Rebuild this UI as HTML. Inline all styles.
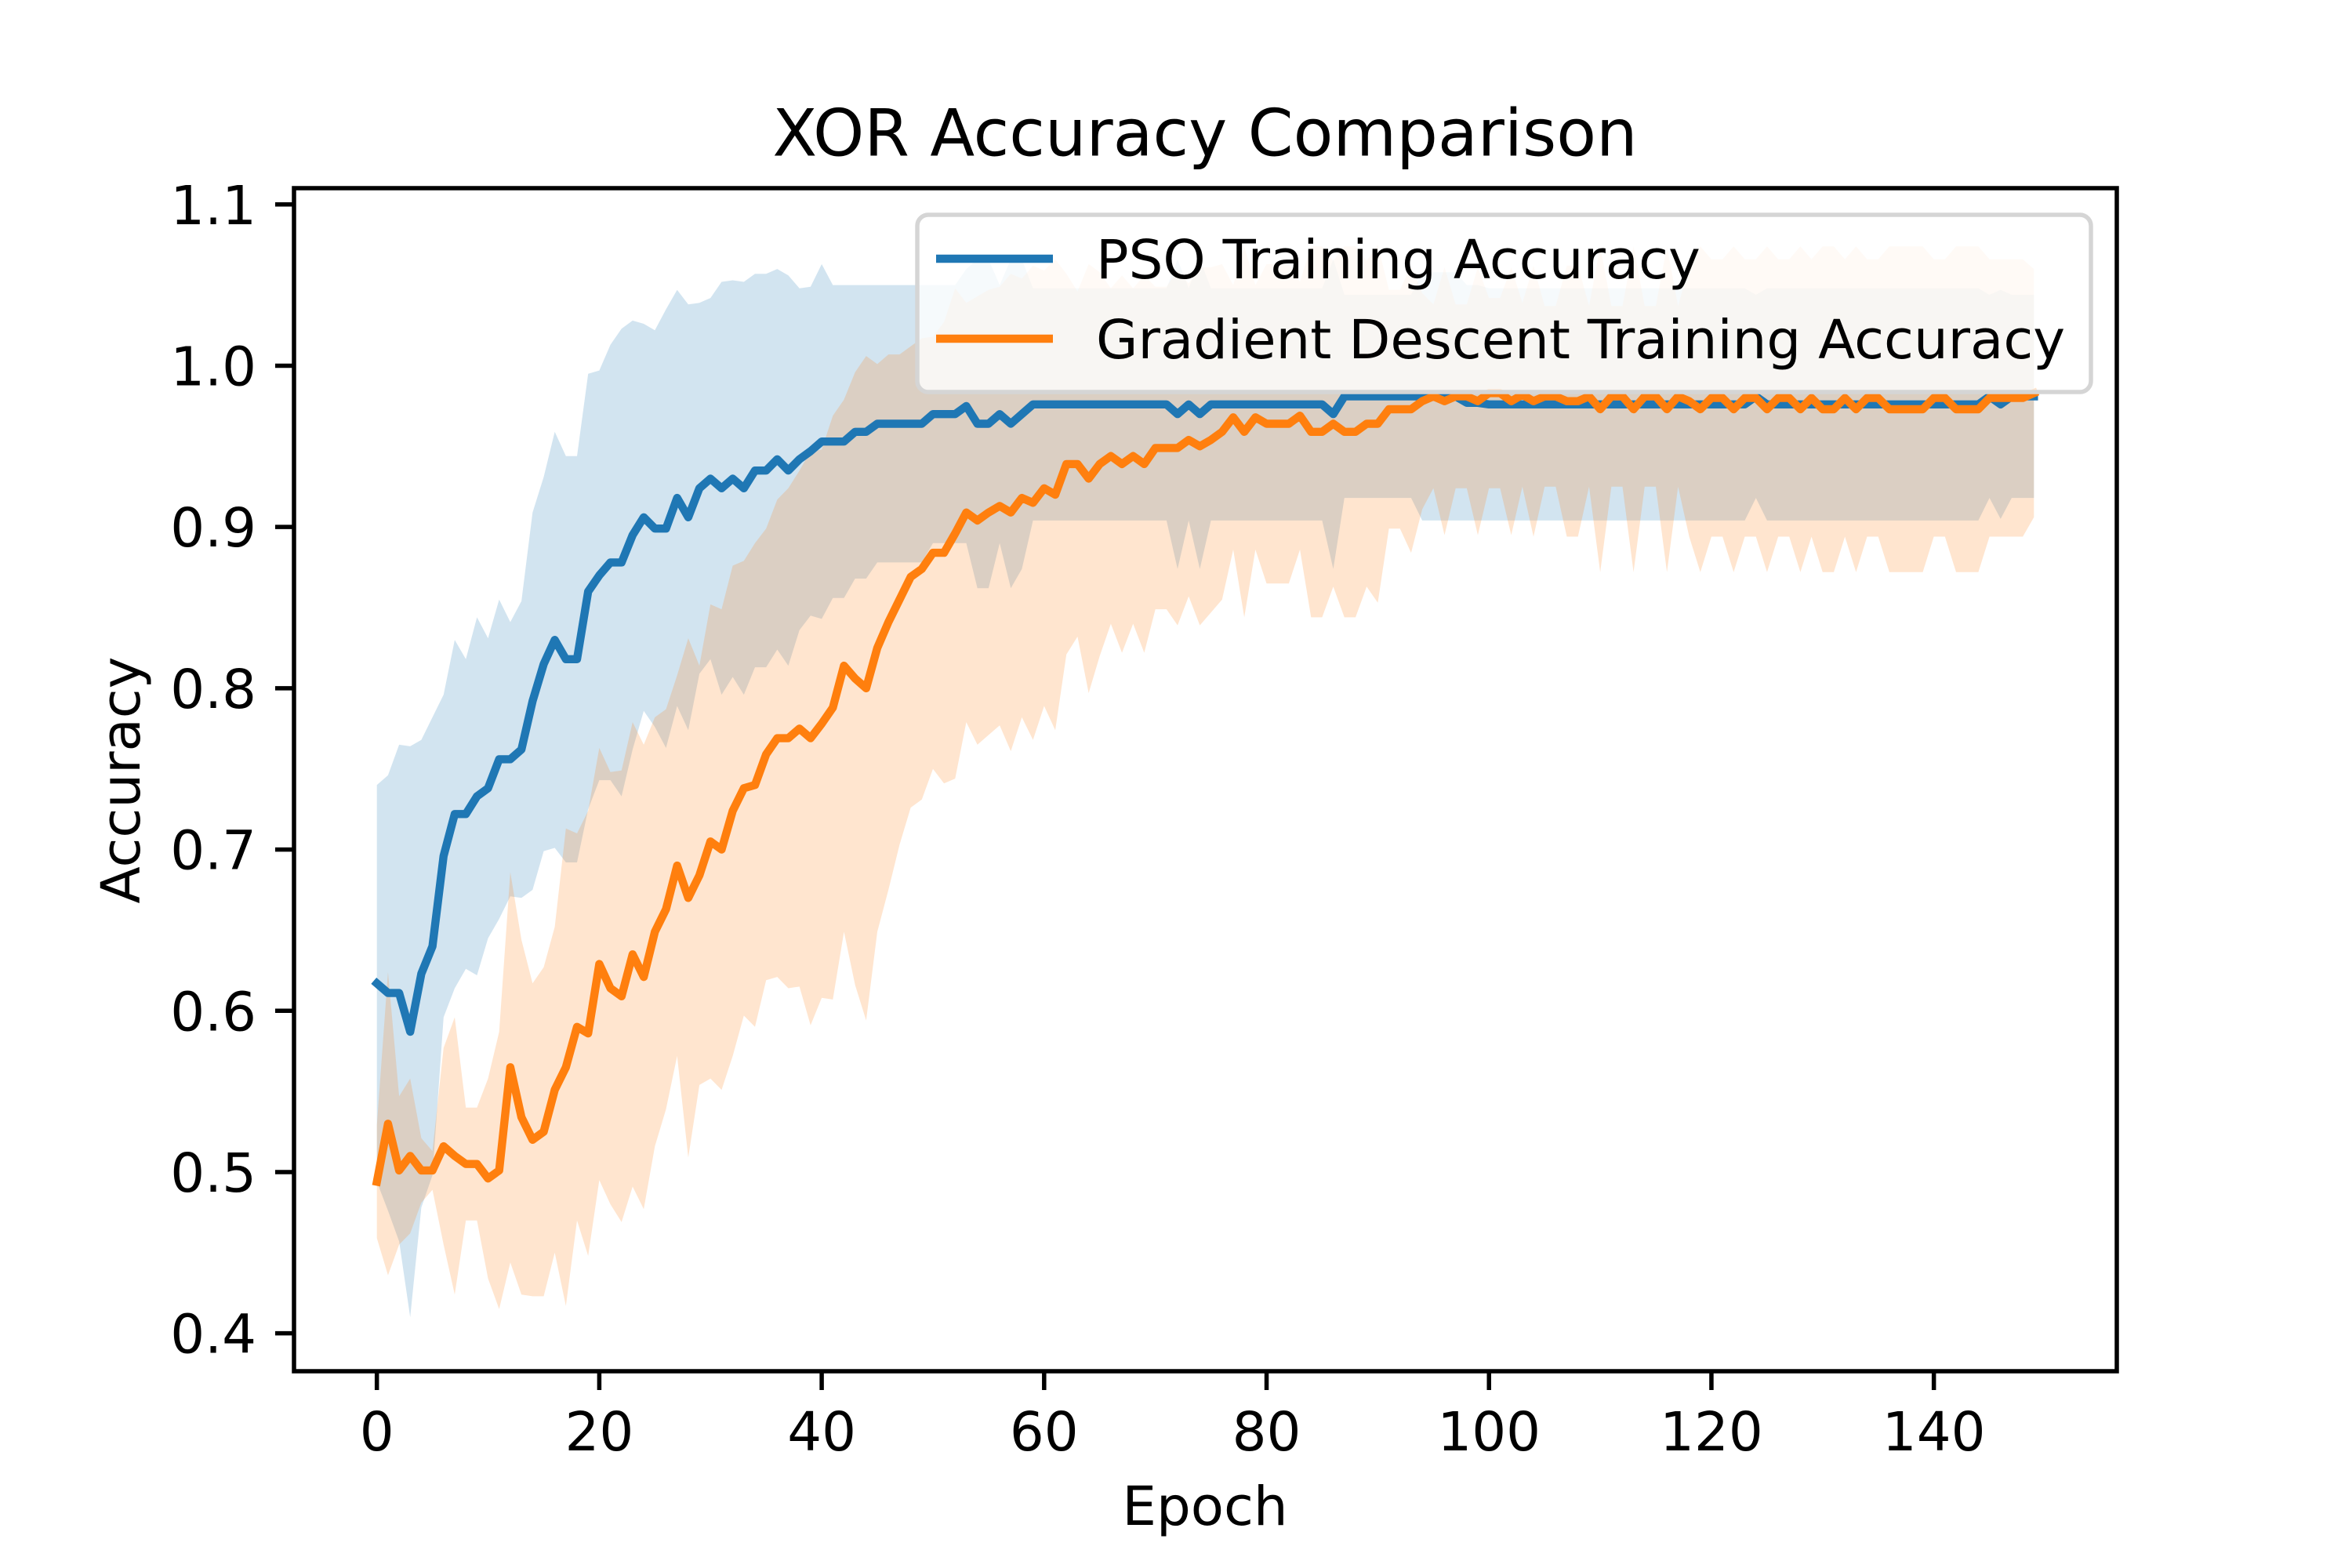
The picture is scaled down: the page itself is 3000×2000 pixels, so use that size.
<!DOCTYPE html>
<html><head><meta charset="utf-8"><style>
html,body{margin:0;padding:0;background:#fff}
svg{display:block}
text{font-family:"DejaVu Sans","Liberation Sans",sans-serif;fill:#000}
</style></head><body>
<svg id="chart" width="3000" height="2000" viewBox="0 0 3000 2000" xmlns="http://www.w3.org/2000/svg">
<rect width="3000" height="2000" fill="#fff"/>
<g id="bands"></g>
<g id="lines"></g>
<rect x="375" y="240" width="2325" height="1509" fill="none" stroke="#000" stroke-width="5.5"/>
<g id="xticks"></g>
<g id="yticks"></g>
<text x="1537" y="170" font-size="83" text-anchor="middle" dominant-baseline="central">XOR Accuracy Comparison</text>
<text x="1537" y="1922" font-size="69" text-anchor="middle" dominant-baseline="central">Epoch</text>
<text transform="translate(155,995) rotate(-90)" font-size="69" text-anchor="middle" dominant-baseline="central">Accuracy</text>
<g>
<rect x="1170" y="274" width="1497" height="226" rx="14" fill="rgba(255,255,255,0.8)" stroke="#d5d5d5" stroke-width="5.5"/>
<g>
<line x1="1194" y1="330" x2="1343" y2="330" stroke="#1f77b4" stroke-width="10.4"/>
<text x="1398" y="332" font-size="69" dominant-baseline="central">PSO Training Accuracy</text>
</g>
<g>
<line x1="1194" y1="432" x2="1343" y2="432" stroke="#ff7f0e" stroke-width="10.4"/>
<text x="1398" y="434" font-size="69" dominant-baseline="central">Gradient Descent Training Accuracy</text>
</g>
</g>
</svg>
<script>
var psoMean=[.617,.611,.611,.587,.623,.640,.696,.722,.722,.733,
.738,.756,.756,.762,.792,.815,.830,.818,.818,.860,
.870,.878,.878,.895,.906,.899,.899,.918,.906,.924,
.930,.924,.930,.924,.935,.935,.942,.935,.942,.947,
.953,.953,.953,.959,.959,.964,.964,.964,.964,.964,
.970,.970,.970,.975,.964,.964,.970,.964,.970,.976,
.976,.976,.976,.976,.976,.976,.976,.976,.976,.976,
.976,.976,.970,.976,.970,.976,.976,.976,.976,.976,
.976,.976,.976,.976,.976,.976,.970,.981,.981,.981,
.981,.981,.981,.981,.981,.981,.981,.981,.977,.977,
.976,.976,.976,.976,.976,.976,.976,.976,.976,.976,
.976,.976,.976,.976,.976,.976,.976,.976,.976,.976,
.976,.976,.976,.976,.981,.976,.976,.976,.976,.976,
.976,.976,.976,.976,.976,.976,.976,.976,.976,.976,
.976,.976,.976,.976,.976,.981,.976,.981,.981,.981];
var psoStd=[.123,.135,.154,.177,.145,.142,.100,.108,.096,.111,
.093,.099,.085,.092,.117,.116,.129,.126,.126,.135,
.127,.135,.145,.133,.120,.123,.136,.129,.132,.115,
.112,.128,.123,.128,.122,.122,.118,.121,.106,.102,
.110,.097,.097,.091,.091,.086,.086,.086,.086,.086,
.080,.080,.080,.085,.102,.102,.080,.102,.096,.072,
.072,.072,.072,.072,.072,.072,.072,.072,.072,.072,
.072,.072,.096,.072,.096,.072,.072,.072,.072,.072,
.072,.072,.072,.072,.072,.072,.096,.063,.063,.063,
.063,.063,.063,.063,.077,.077,.077,.077,.073,.073,
.072,.072,.072,.072,.072,.072,.072,.072,.072,.072,
.072,.072,.072,.072,.072,.072,.072,.072,.072,.072,
.072,.072,.072,.072,.063,.072,.072,.072,.072,.072,
.072,.072,.072,.072,.072,.072,.072,.072,.072,.072,
.072,.072,.072,.072,.072,.063,.071,.063,.063,.063];
var gdMean=[.494,.530,.501,.510,.501,.501,.516,.510,.505,.505,
.496,.501,.565,.534,.520,.525,.551,.565,.590,.586,
.629,.614,.609,.635,.621,.649,.663,.690,.670,.684,
.705,.700,.724,.738,.740,.759,.769,.769,.775,.769,
.778,.788,.814,.806,.800,.825,.841,.855,.869,.874,
.884,.884,.896,.909,.904,.909,.913,.909,.918,.915,
.924,.920,.939,.939,.930,.939,.944,.939,.944,.939,
.949,.949,.949,.954,.950,.954,.959,.968,.959,.968,
.964,.964,.964,.969,.959,.959,.964,.959,.959,.964,
.964,.973,.973,.973,.978,.981,.978,.981,.981,.978,
.983,.983,.978,.982,.978,.981,.981,.978,.978,.981,
.973,.981,.981,.973,.981,.981,.973,.981,.978,.973,
.980,.980,.973,.980,.980,.973,.980,.980,.973,.980,
.973,.973,.980,.973,.980,.980,.973,.973,.973,.973,
.980,.980,.973,.973,.973,.980,.980,.980,.980,.983];
var gdStd=[.035,.094,.046,.048,.020,.012,.061,.086,.035,.035,
.062,.086,.121,.110,.097,.102,.101,.148,.120,.138,
.134,.134,.140,.144,.144,.133,.124,.118,.161,.130,
.147,.149,.152,.141,.150,.140,.148,.155,.160,.178,
.170,.181,.165,.190,.206,.176,.166,.152,.143,.143,
.134,.143,.152,.130,.139,.138,.136,.148,.136,.147,
.135,.146,.118,.107,.133,.119,.104,.117,.104,.117,
.100,.100,.110,.097,.111,.107,.104,.082,.115,.082,
.099,.099,.099,.083,.115,.115,.101,.115,.115,.101,
.111,.074,.074,.089,.067,.057,.083,.057,.057,.083,
.059,.059,.083,.057,.084,.056,.056,.084,.084,.056,
.101,.056,.056,.101,.056,.056,.101,.056,.084,.101,
.086,.086,.101,.086,.086,.101,.086,.086,.101,.086,
.101,.101,.086,.101,.086,.086,.101,.101,.101,.101,
.086,.086,.101,.101,.101,.086,.086,.086,.086,.077];
var xTickValues=[0,20,40,60,80,100,120,140];
var yTickValues=[0.4,0.5,0.6,0.7,0.8,0.9,1.0,1.1];
var yTickLabels=["0.4","0.5","0.6","0.7","0.8","0.9","1.0","1.1"];

var NS="http://www.w3.org/2000/svg";
var X0=375,X1=2700,Y0=240,Y1=1749;
var XMIN=-7.45,XMAX=156.45,YMIN=0.3765,YMAX=1.1101;
function sx(v){return X0+(v-XMIN)/(XMAX-XMIN)*(X1-X0);}
function sy(v){return Y1-(v-YMIN)/(YMAX-YMIN)*(Y1-Y0);}
function mk(tag,attrs,parent){var e=document.createElementNS(NS,tag);for(var k in attrs)e.setAttribute(k,attrs[k]);parent.appendChild(e);return e;}

var bands=document.getElementById('bands'),lines=document.getElementById('lines');
function band(mean,std,color,name){
  var up=[],lo=[];
  for(var i=0;i<mean.length;i++){up.push(sx(i).toFixed(1)+','+sy(mean[i]+std[i]).toFixed(1));}
  for(var j=mean.length-1;j>=0;j--){lo.push(sx(j).toFixed(1)+','+sy(mean[j]-std[j]).toFixed(1));}
  var p=mk('polygon',{points:up.concat(lo).join(' '),fill:color,'fill-opacity':'0.2',stroke:'none'},bands);
  
  
}
function line(mean,color,name){
  var pts=[];
  for(var i=0;i<mean.length;i++)pts.push(sx(i).toFixed(1)+','+sy(mean[i]).toFixed(1));
  var p=mk('polyline',{points:pts.join(' '),fill:'none',stroke:color,'stroke-width':'10.4','stroke-linejoin':'round','stroke-linecap':'square'},lines);
  
  
}
band(psoMean,psoStd,'#1f77b4','pso-std-band');
band(gdMean,gdStd,'#ff7f0e','gd-std-band');
line(psoMean,'#1f77b4','pso-accuracy-line');
line(gdMean,'#ff7f0e','gd-accuracy-line');

var xg=document.getElementById('xticks');
xTickValues.forEach(function(v){
  var x=sx(v);
  var t=mk('line',{x1:x,y1:Y1,x2:x,y2:Y1+24,stroke:'#000','stroke-width':'5.5'},xg);
  
  
  var l=mk('text',{x:x,y:Y1+78,'font-size':'69','text-anchor':'middle','dominant-baseline':'central'},xg);
  l.textContent=String(v);
  
  
});
var yg=document.getElementById('yticks');
yTickValues.forEach(function(v,i){
  var y=sy(v);
  var t=mk('line',{x1:X0-24,y1:y,x2:X0,y2:y,stroke:'#000','stroke-width':'5.5'},yg);
  
  
  var l=mk('text',{x:X0-48,y:y+2,'font-size':'69','text-anchor':'end','dominant-baseline':'central'},yg);
  l.textContent=yTickLabels[i];
  
  
});
</script>
</body></html>
